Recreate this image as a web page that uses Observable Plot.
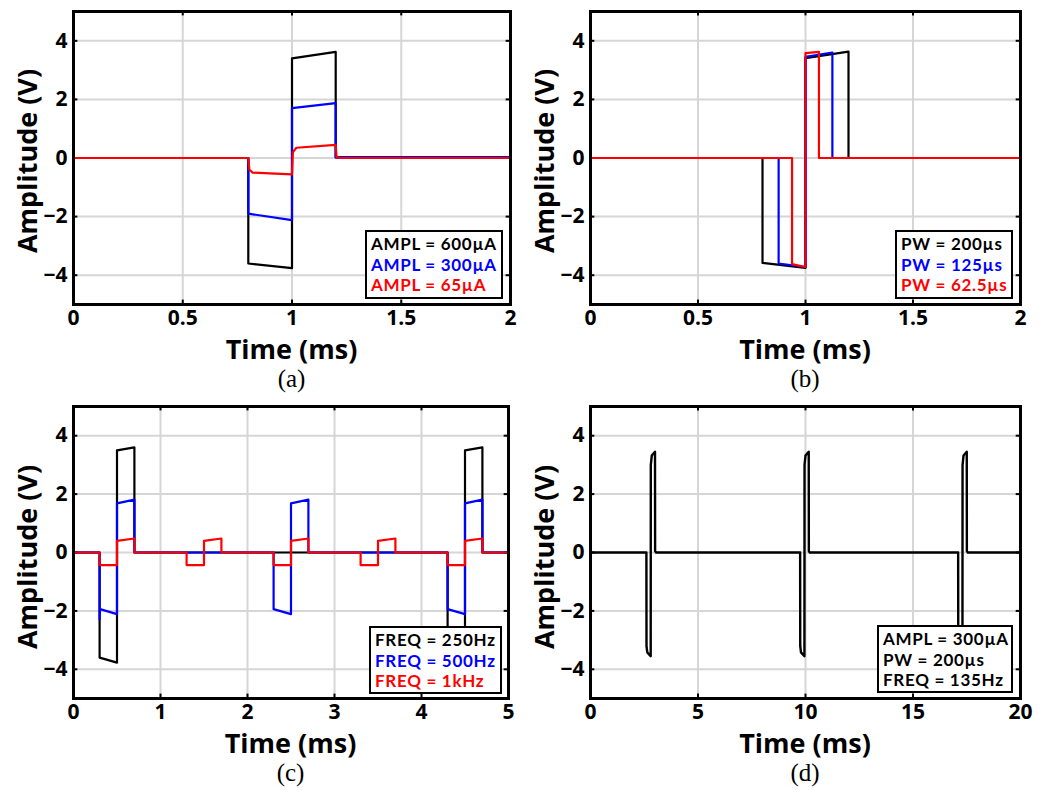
<!DOCTYPE html>
<html><head><meta charset="utf-8">
<script src="https://cdn.jsdelivr.net/npm/d3@7"></script>
<script src="https://cdn.jsdelivr.net/npm/@observablehq/plot@0.6"></script>
<style>
body{margin:0;background:#fff;}
#root{position:relative;width:1050px;height:798px;overflow:hidden;font-family:"Open Sans",Lato,sans-serif;}
.panel{position:absolute;}
.lbl{position:absolute;font-weight:bold;font-size:27px;color:#000;white-space:nowrap;transform:translate(-50%,-50%);line-height:1;}
.ylbl{transform:translate(-50%,-50%) rotate(-90deg);}
.cap{position:absolute;font-family:"Liberation Serif","DejaVu Serif",serif;font-size:25px;transform:translate(-50%,-50%);line-height:1;white-space:nowrap;}
.leg{position:absolute;border:2px solid #000;background:#fff;font-family:Lato,"Open Sans",sans-serif;font-weight:bold;font-size:17px;line-height:20.5px;padding:2px 4px;box-sizing:border-box;white-space:nowrap;letter-spacing:0.7px;}
.leg div{height:20.5px;}
</style></head>
<body><div id="root"></div>
<script>
// ---------- data ----------
const yTicks = [-4, -2, 0, 2, 4];

// (a) amplitude sweep
const aXTicks = [0, 0.5, 1, 1.5, 2];
const aBlackT = [0, 0.8, 0.8, 1.0, 1.0, 1.2, 1.2, 2];
const aBlackV = [0, 0, -3.6, -3.76, 3.4, 3.62, 0.02, 0.02];
const aBlueT = [0, 0.8, 0.8, 1.0, 1.0, 1.2, 1.2, 2];
const aBlueV = [0, 0, -1.9, -2.12, 1.7, 1.87, 0.02, 0.02];
const aRedT = [0, 0.8, 0.805, 0.82, 1.0, 1.004, 1.02, 1.2, 1.204, 1.22, 2];
const aRedV = [0, 0, -0.4, -0.5, -0.56, 0.2, 0.35, 0.45, 0.03, 0, 0];
const aLegend = ["AMPL = 600µA", "AMPL = 300µA", "AMPL = 65µA"];

// (b) pulse-width sweep
const bXTicks = [0, 0.5, 1, 1.5, 2];
const bBlackT = [0, 0.8, 0.8, 1.0, 1.0, 1.2, 1.2, 2];
const bBlackV = [0, 0, -3.58, -3.75, 3.41, 3.63, 0, 0];
const bBlueT = [0, 0.875, 0.875, 1.0, 1.0, 1.125, 1.125, 2];
const bBlueV = [0, 0, -3.6, -3.72, 3.45, 3.6, 0, 0];
const bRedT = [0, 0.9375, 0.9375, 1.0, 1.0, 1.0625, 1.0625, 2];
const bRedV = [0, 0, -3.62, -3.72, 3.58, 3.62, 0, 0];
const bLegend = ["PW = 200µs", "PW = 125µs", "PW = 62.5µs"];

// (c) frequency sweep
const cXTicks = [0, 1, 2, 3, 4, 5];
const cBlackT = [0, 0.3, 0.3, 0.5, 0.5, 0.7, 0.7, 4.3, 4.3, 4.5, 4.5, 4.7, 4.7, 5];
const cBlackV = [0, 0, -3.6, -3.77, 3.5, 3.6, 0, 0, -3.6, -3.77, 3.5, 3.6, 0, 0];
const cBlueT = [0, 0.3, 0.3, 0.305, 0.5, 0.5, 0.7, 0.7, 2.3, 2.3, 2.5, 2.5, 2.7, 2.7, 4.3, 4.3, 4.5, 4.5, 4.7, 4.7, 5];
const cBlueV = [0, 0, -2.3, -1.94, -2.11, 1.68, 1.81, 0, 0, -1.94, -2.11, 1.68, 1.81, 0, 0, -1.94, -2.11, 1.68, 1.81, 0, 0];
const cRedT = [0, 0.3, 0.3, 0.5, 0.5, 0.7, 0.7, 1.3, 1.3, 1.5, 1.5, 1.7, 1.7, 2.3, 2.3, 2.5, 2.5, 2.7, 2.7, 3.3, 3.3, 3.5, 3.5, 3.7, 3.7, 4.3, 4.3, 4.5, 4.5, 4.7, 4.7, 5];
const cRedV = [0, 0, -0.43, -0.43, 0.4, 0.48, 0, 0, -0.43, -0.43, 0.4, 0.48, 0, 0, -0.43, -0.43, 0.4, 0.48, 0, 0, -0.43, -0.43, 0.4, 0.48, 0, 0, -0.43, -0.43, 0.4, 0.48, 0, 0];
const cLegend = ["FREQ = 250Hz", "FREQ = 500Hz", "FREQ = 1kHz"];

// (d) clinical setting
const dXTicks = [0, 5, 10, 15, 20];
const dBlackT = [0, 2.6, 2.605, 2.64, 2.8, 2.805, 2.85, 3.0, 3.005, 3.05,
                 9.75, 9.755, 9.79, 9.95, 9.955, 10.0, 10.15, 10.155, 10.2,
                 17.1, 17.105, 17.14, 17.3, 17.305, 17.35, 17.5, 17.505, 17.55, 20];
const dBlackV = [0, 0, -3.2, -3.42, -3.55, 3.0, 3.32, 3.45, 0.05, 0,
                 0, -3.2, -3.42, -3.55, 3.0, 3.32, 3.45, 0.05, 0,
                 0, -3.2, -3.42, -3.55, 3.0, 3.32, 3.45, 0.05, 0, 0];
const dLegend = ["AMPL = 300µA", "PW = 200µs", "FREQ = 135Hz"];

const seriesColors = ["#000000", "#0000ff", "#ff0000"];

// ---------- layout ----------
const zip = (t, v) => t.map((d, i) => ({t: d, v: v[i]}));
const panels = [
  {left: 0, top: 0, ml: 73, mr: 15, mt: 11, mb: 56, xTicks: aXTicks,
   series: [[aBlackT, aBlackV], [aBlueT, aBlueV], [aRedT, aRedV]], legend: aLegend, legColors: seriesColors,
   leg: [365, 230, 138, 69], cap: "(a)", lw: 2.2},
  {left: 525, top: 0, ml: 65, mr: 30, mt: 11, mb: 56, xTicks: bXTicks,
   series: [[bBlackT, bBlackV], [bBlueT, bBlueV], [bRedT, bRedV]], legend: bLegend, legColors: seriesColors,
   leg: [895, 230, 118, 69], cap: "(b)", lw: 2.2},
  {left: 0, top: 395, ml: 73, mr: 17, mt: 11, mb: 57, xTicks: cXTicks,
   series: [[cBlackT, cBlackV], [cBlueT, cBlueV], [cRedT, cRedV]], legend: cLegend, legColors: seriesColors,
   leg: [369, 626, 133, 68], cap: "(c)", lw: 2.2},
  {left: 525, top: 395, ml: 65, mr: 30, mt: 11, mb: 57, xTicks: dXTicks,
   series: [[dBlackT, dBlackV]], legend: dLegend, legColors: ["#000", "#000", "#000"],
   leg: [877, 625, 136, 68], cap: "(d)", lw: 2.4},
];

const root = document.getElementById("root");
const W = 525, H = 360;
const FONT = "'Open Sans', Lato, sans-serif";
for (const p of panels) {
  const xd = [p.xTicks[0], p.xTicks[p.xTicks.length - 1]];
  const xs = (xd[1] - xd[0]);
  const chart = Plot.plot({
    width: W, height: H,
    marginLeft: p.ml, marginRight: p.mr, marginTop: p.mt, marginBottom: p.mb,
    x: {domain: xd, ticks: p.xTicks, label: null},
    y: {domain: [-5, 5], ticks: yTicks, label: null},
    style: {fontFamily: FONT, fontWeight: "bold", fontSize: "21px", background: "white", color: "black"},
    marks: [
      Plot.gridX({ticks: p.xTicks, stroke: "#d6d6d6", strokeOpacity: 1, strokeWidth: 2}),
      Plot.gridY({ticks: yTicks, stroke: "#d6d6d6", strokeOpacity: 1, strokeWidth: 2}),
      Plot.ruleX(p.xTicks, {x: d => d, y1: -5, y2: -4.85, stroke: "black", strokeWidth: 2}),
      Plot.ruleX(p.xTicks, {x: d => d, y1: 4.85, y2: 5, stroke: "black", strokeWidth: 2}),
      Plot.ruleY(yTicks, {y: d => d, x1: xd[0], x2: xd[0] + xs * 0.01, stroke: "black", strokeWidth: 2}),
      Plot.ruleY(yTicks, {y: d => d, x1: xd[1] - xs * 0.01, x2: xd[1], stroke: "black", strokeWidth: 2}),
      ...p.series.map(([t, v], i) => Plot.line(zip(t, v), {x: "t", y: "v", stroke: seriesColors[i], strokeWidth: p.lw, strokeLinejoin: "round"})),
      Plot.axisX({ticks: p.xTicks, anchor: "bottom", tickSize: 0, tickPadding: 6, label: null, tickFormat: d => String(d), fontSize: 21, fontWeight: "bold"}),
      Plot.axisY({ticks: yTicks, anchor: "left", tickSize: 0, tickPadding: 6, label: null, fontSize: 21, fontWeight: "bold"}),
      Plot.frame({stroke: "black", strokeWidth: 3})
    ]
  });
  const div = document.createElement("div");
  div.className = "panel";
  div.style.left = p.left + "px"; div.style.top = p.top + "px";
  div.appendChild(chart);
  root.appendChild(div);

  const fx0 = p.left + p.ml, fx1 = p.left + W - p.mr;
  const fy1 = p.top + H - p.mb;
  const cx = (fx0 + fx1) / 2;

  const xl = document.createElement("div");
  xl.className = "lbl"; xl.textContent = "Time (ms)";
  xl.style.left = cx + "px"; xl.style.top = (fy1 + 44) + "px";
  root.appendChild(xl);

  const yl = document.createElement("div");
  yl.className = "lbl ylbl"; yl.textContent = "Amplitude (V)";
  yl.style.left = (p.left + (p.left === 0 ? 26 : 18)) + "px";
  yl.style.top = (p.top + (p.top === 0 ? 161 : 162)) + "px";
  root.appendChild(yl);

  const cap = document.createElement("div");
  cap.className = "cap"; cap.textContent = p.cap;
  cap.style.left = cx + "px"; cap.style.top = (fy1 + 74) + "px";
  root.appendChild(cap);

  const lg = document.createElement("div");
  lg.className = "leg";
  lg.style.left = p.leg[0] + "px"; lg.style.top = p.leg[1] + "px";
  lg.style.width = p.leg[2] + "px"; lg.style.height = p.leg[3] + "px";
  p.legend.forEach((s, i) => {
    const r = document.createElement("div");
    r.textContent = s; r.style.color = p.legColors[i];
    lg.appendChild(r);
  });
  root.appendChild(lg);
}
</script>
</body></html>
